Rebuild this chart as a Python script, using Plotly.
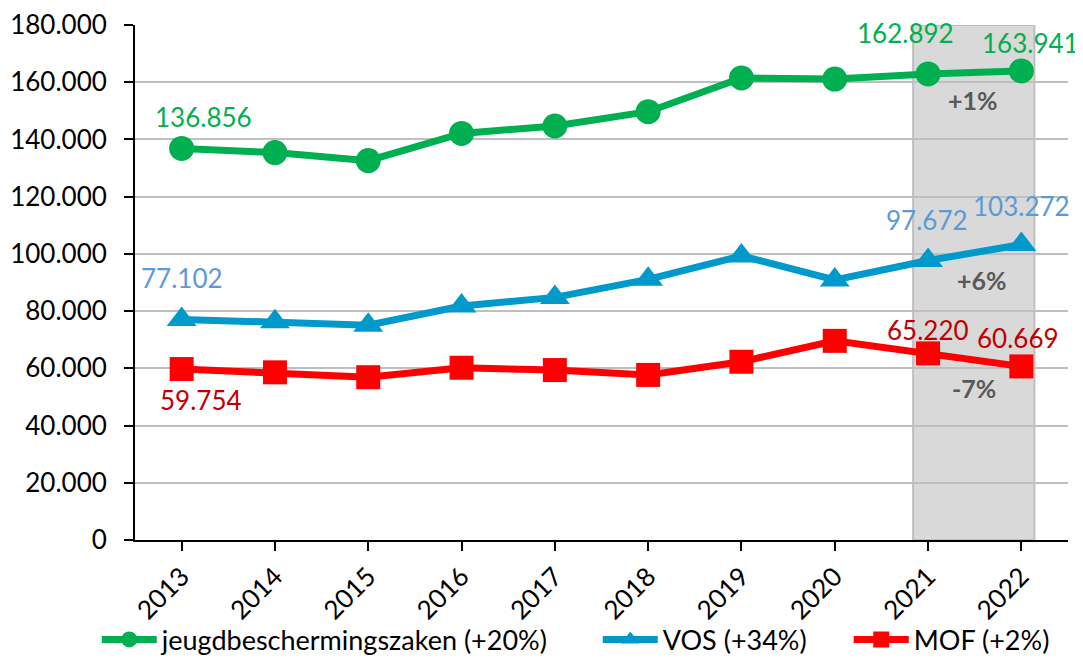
import plotly.graph_objects as go

years = ["2013", "2014", "2015", "2016", "2017", "2018", "2019", "2020", "2021", "2022"]
jeugd = [136856, 135400, 132600, 142100, 144700, 149700, 161500, 161100, 162892, 163941]
vos = [77102, 76300, 75100, 81800, 84800, 91100, 99300, 90900, 97672, 103272]
mof = [59754, 58600, 56900, 60200, 59400, 57700, 62300, 69600, 65220, 60669]
names = ["jeugdbeschermingszaken (+20%)", "VOS (+34%)", "MOF (+2%)"]
changes = ["+1%", "+6%", "-7%"]

FONT = "Lato"
green, blue, red = "#00b050", "#0099cc", "#ff0000"
green_lbl, blue_lbl, red_lbl = "#00b050", "#5b9bd5", "#c00000"


def fmt(v):
    return f"{v:,.0f}".replace(",", ".")


fig = go.Figure()
series = [
    (jeugd, names[0], green, "circle", 25, "legend"),
    (vos, names[1], blue, "triangle-up", 26, "legend2"),
    (mof, names[2], red, "square", 24, "legend3"),
]
for vals, nm, col, sym, sz, lg in series:
    fig.add_trace(go.Scatter(
        x=years, y=vals, name=nm, mode="lines+markers",
        line=dict(color=col, width=7),
        marker=dict(symbol=sym, size=sz, color=col),
        legend=lg,
    ))

# shaded highlight of last two years
fig.add_shape(type="rect", xref="x", yref="y", x0=7.84, x1=9.14, y0=0, y1=180000,
              fillcolor="#d9d9d9", line=dict(color="#bfbfbf", width=2), layer="below")

ann = []
# (series, index, color, xshift, yshift)
labels = [
    (jeugd, 0, green_lbl, 22, 31), (jeugd, 8, green_lbl, -23, 41), (jeugd, 9, green_lbl, 9, 28),
    (vos, 0, blue_lbl, 0, 41), (vos, 8, blue_lbl, -1, 41), (vos, 9, blue_lbl, 0, 39),
    (mof, 0, red_lbl, 19, -31), (mof, 8, red_lbl, 0, 23), (mof, 9, red_lbl, -3, 28),
]
for vals, i, col, xs, ys in labels:
    ann.append(dict(x=i, y=vals[i], xref="x", yref="y", text=fmt(vals[i]), showarrow=False,
                    xshift=xs, yshift=ys, font=dict(family=FONT, size=26, color=col)))
for vals, ch, xs, ys in zip([jeugd, vos, mof], changes, [-2, 7, -1], [-28, -27, -28]):
    ann.append(dict(x=8.5, y=(vals[8] + vals[9]) / 2, xref="x", yref="y", text="<b>" + ch + "</b>",
                    showarrow=False, xshift=xs, yshift=ys,
                    font=dict(family=FONT, size=25, color="#595959")))

leg_common = dict(orientation="h", yanchor="middle", y=-0.194, xanchor="left",
                  font=dict(family=FONT, size=27, color="black"), itemwidth=55,
                  bgcolor="rgba(0,0,0,0)")
# page body has an 8px default offset, compensated in margins
fig.update_layout(
    width=1083, height=659,
    margin=dict(l=127, r=23, t=17, b=127, autoexpand=False),
    paper_bgcolor="white", plot_bgcolor="white",
    separators=",.",
    font=dict(family=FONT, size=26, color="black"),
    showlegend=True,
    legend=dict(leg_common, x=-0.041),
    legend2=dict(leg_common, x=0.496),
    legend3=dict(leg_common, x=0.765),
    annotations=ann,
)
fig.update_xaxes(type="category", range=[-0.5, 9.5], showline=True, linecolor="black", linewidth=2,
                 ticks="outside", ticklen=9, tickcolor="black", tickwidth=2, tickangle=-45,
                 showgrid=False, automargin=False, tickfont=dict(family=FONT, size=26))
fig.update_yaxes(range=[0, 180000], dtick=20000, tickformat=",d", showline=True, linecolor="black",
                 linewidth=2, ticks="outside", ticklen=9, tickcolor="black", tickwidth=2,
                 ticklabelstandoff=12, automargin=False,
                 gridcolor="#bfbfbf", gridwidth=1.5, zeroline=False, tickfont=dict(family=FONT, size=26))

fig.write_html("out.html")
